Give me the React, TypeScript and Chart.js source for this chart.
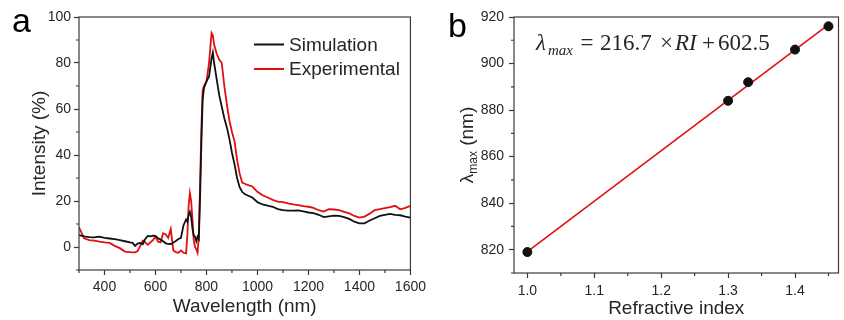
import React, { useEffect, useRef } from "react";
import { Chart, registerables } from "chart.js";
Chart.register(...registerables);

// ---------- Panel a data ----------
const wavelength = [
  300, 320, 340, 360, 380, 400, 420, 440, 460, 480, 500, 510, 520, 530, 540, 550, 560, 570, 580, 590,
  600, 610, 620, 630, 640, 650, 660, 665, 670, 680, 690, 700, 710, 720, 725, 730, 735, 740, 745, 750,
  755, 760, 765, 770, 775, 780, 785, 790, 800, 810, 820, 825, 830, 840, 850, 860, 870, 880, 890, 900,
  910, 920, 930, 940, 950, 960, 980, 1000, 1020, 1040, 1060, 1080, 1100, 1120, 1140, 1160, 1180, 1200,
  1220, 1240, 1260, 1280, 1300, 1320, 1340, 1360, 1380, 1400, 1420, 1440, 1460, 1480, 1500, 1520, 1540,
  1560, 1580, 1600,
];
const simulation = [
  5.2, 4.6, 4.3, 4.2, 4.5, 4.0, 3.7, 3.4, 3.0, 2.5, 2.0, 1.8, 0.5, 1.5, 1.8, 1.2, 3.5, 4.8, 4.6, 4.9,
  4.8, 3.8, 3.2, 2.5, 1.6, 1.4, 1.3, 1.5, 2.0, 2.6, 3.5, 4.0, 9.5, 12, 11, 14, 15.3, 13, 8, 5,
  4.5, 2.5, 4.5, 3.5, 22, 45, 64, 69, 72, 74, 82, 84.5, 80, 73, 66, 61, 56, 52, 47, 41,
  36, 30, 26, 24, 23, 22.5, 21.5, 19.5, 18.5, 18, 17.5, 16.5, 16, 15.8, 15.8, 15.9, 15.5, 15,
  14.7, 14, 13, 13.3, 13.6, 13.5, 13, 12.2, 11, 10.3, 10.3, 11.5, 12.5, 13.5, 14, 14.4, 14,
  13.8, 13.2, 12.8,
];
const experimental = [
  8.5, 3.8, 3.0, 2.8, 2.3, 2.0, 1.8, 0.5, -0.5, -2.0, -2.2, -2.3, -2.3, -1.8, 0.5, 2.8, 2.0, 1.0, 2.0, 3.0,
  4.5, 2.3, 2.0, 6.0, 5.5, 4.0, 7.8, 3.0, -1.5, -2.2, -2.5, -1.5, -2.5, -2.8, 5, 18, 23.5, 20, 12, 3,
  0, -1, -2.5, 5, 28, 52, 68, 70, 72, 80, 93, 92, 88, 84, 81.5, 80, 70, 62, 55, 50,
  46, 38, 32, 28, 27.5, 27, 26.3, 24, 22.5, 21.5, 20.5, 19.7, 19.5, 19, 18.5, 18.2, 17.8, 17.5,
  17, 16, 15.4, 16.4, 16.3, 16, 15.3, 14.6, 13.5, 12.8, 13.2, 14.5, 16, 16.5, 16.9, 17.3, 17.9,
  16.4, 17, 17.9,
];
const seriesLabels = ["Simulation", "Experimental"];
const minorTicksAX = [300, 500, 700, 900, 1100, 1300, 1500];
const minorTicksAY = [-10, 10, 30, 50, 70, 90];

// ---------- Panel b data ----------
const refractiveIndex = [1.0, 1.3, 1.33, 1.4, 1.45];
const lambdaMax = [819, 884, 892, 906, 916];
const fitRI = [1.0, 1.45];
const fitLambda = [819.2, 916.7];
const minorTicksBX = [1.05, 1.15, 1.25, 1.35, 1.45];
const minorTicksBY = [810, 830, 850, 870, 890, 910];

const SANS = "'Liberation Sans', Arial, sans-serif";
const SERIF = "'Liberation Serif', 'Times New Roman', serif";
const TEXT = "#262626";
const AXIS = "#3a3a3a";
const RED = "#e01010";
const BLACK = "#111111";

function framePlugin(minorX: number[], minorY: number[]) {
  return {
    id: "frameMinor",
    afterDraw(chart: any) {
      const { ctx, chartArea, scales } = chart;
      const { left, right, top, bottom } = chartArea;
      ctx.save();
      ctx.strokeStyle = AXIS;
      ctx.lineWidth = 1.2;
      ctx.strokeRect(left, top, right - left, bottom - top);
      ctx.beginPath();
      minorX.forEach((v) => {
        const px = scales.x.getPixelForValue(v);
        ctx.moveTo(px, bottom);
        ctx.lineTo(px, bottom + 3);
      });
      minorY.forEach((v) => {
        const py = scales.y.getPixelForValue(v);
        ctx.moveTo(left, py);
        ctx.lineTo(left - 3, py);
      });
      ctx.stroke();
      ctx.restore();
    },
  };
}

const annotA = {
  id: "annotA",
  afterDraw(chart: any) {
    const { ctx } = chart;
    ctx.save();
    ctx.fillStyle = "#000";
    ctx.font = `34px ${SANS}`;
    ctx.textBaseline = "alphabetic";
    ctx.fillText("a", 12, 32);
    // legend
    const ds = chart.data.datasets;
    const rows = [44.5, 69];
    ds.forEach((d: any, i: number) => {
      ctx.strokeStyle = d.borderColor;
      ctx.lineWidth = 2;
      ctx.beginPath();
      ctx.moveTo(254, rows[i]);
      ctx.lineTo(284, rows[i]);
      ctx.stroke();
      ctx.fillStyle = TEXT;
      ctx.font = `19px ${SANS}`;
      ctx.textBaseline = "middle";
      ctx.fillText(d.label, 289, rows[i] + 1);
    });
    ctx.restore();
  },
};

const annotB = {
  id: "annotB",
  afterDraw(chart: any) {
    const { ctx } = chart;
    ctx.save();
    ctx.fillStyle = "#000";
    ctx.font = `34px ${SANS}`;
    ctx.textBaseline = "alphabetic";
    ctx.fillText("b", 18, 36.7);
    // equation
    ctx.fillStyle = TEXT;
    const base = 50;
    const ox = -430;
    ctx.textAlign = "left";
    ctx.font = `italic 23px ${SERIF}`;
    ctx.fillText("λ", 536 + ox, base);
    ctx.font = `italic 15px ${SERIF}`;
    ctx.fillText("max", 548 + ox, base + 5);
    ctx.font = `23px ${SERIF}`;
    ctx.fillText("216.7", 600 + ox, base);
    ctx.fillText("602.5", 718 + ox, base);
    ctx.font = `italic 23px ${SERIF}`;
    ctx.fillText("RI", 675 + ox, base);
    ctx.font = `23px ${SERIF}`;
    ctx.textAlign = "center";
    ctx.fillText("=", 587 + ox, base);
    ctx.fillText("×", 666.5 + ox, base);
    ctx.fillText("+", 708.5 + ox, base);
    ctx.textAlign = "left";
    // y title with subscript
    const ca = chart.chartArea;
    ctx.translate(463 + ox + 3, (ca.top + ca.bottom) / 2);
    ctx.rotate(-Math.PI / 2);
    ctx.textBaseline = "alphabetic";
    const f1 = `19px ${SANS}`;
    const f2 = `12px ${SANS}`;
    ctx.font = f1;
    const w1 = ctx.measureText("λ").width;
    const w3 = ctx.measureText(" (nm)").width;
    ctx.font = f2;
    const w2 = ctx.measureText("max").width;
    const total = w1 + w2 + w3;
    let x = -total / 2;
    ctx.font = f1;
    ctx.fillText("λ", x, 7);
    x += w1;
    ctx.font = f2;
    ctx.fillText("max", x, 11);
    x += w2;
    ctx.font = f1;
    ctx.fillText(" (nm)", x, 7);
    ctx.restore();
  },
};

function axisCommon() {
  return {
    grid: { display: true, drawOnChartArea: false, drawTicks: true, tickLength: 5, tickColor: AXIS, tickWidth: 1.2 },
    border: { display: false },
  };
}

export default function App() {
  const refA = useRef<HTMLCanvasElement>(null);
  const refB = useRef<HTMLCanvasElement>(null);

  useEffect(() => {
    const chartA = new Chart(refA.current!, {
      type: "line",
      data: {
        datasets: [
          {
            label: seriesLabels[0],
            data: wavelength.map((w, i) => ({ x: w, y: simulation[i] })),
            borderColor: BLACK,
            borderWidth: 1.8,
            pointRadius: 0,
            tension: 0,
          },
          {
            label: seriesLabels[1],
            data: wavelength.map((w, i) => ({ x: w, y: experimental[i] })),
            borderColor: RED,
            borderWidth: 1.8,
            pointRadius: 0,
            tension: 0,
          },
        ],
      },
      options: {
        animation: false,
        responsive: false,
        layout: { padding: { top: 17, right: 17, left: 0, bottom: 0 } },
        plugins: { legend: { display: false }, tooltip: { enabled: false } },
        scales: {
          x: {
            type: "linear",
            min: 300,
            max: 1600,
            ...axisCommon(),
            ticks: {
              stepSize: 200,
              includeBounds: false,
              padding: 4,
              color: TEXT,
              font: { family: SANS, size: 14 },
              maxRotation: 0,
              callback: (v: any) => String(v),
            },
            title: { display: true, text: "Wavelength (nm)", color: TEXT, font: { family: SANS, size: 19 }, padding: { top: 0, bottom: 2 } },
            afterFit: (s: any) => { s.height = 50; },
          },
          y: {
            type: "linear",
            min: -10,
            max: 100,
            ...axisCommon(),
            ticks: { stepSize: 20, includeBounds: false, padding: 3, color: TEXT, font: { family: SANS, size: 14 }, callback: (v: any) => String(v) },
            title: { display: true, text: "Intensity (%)", color: TEXT, font: { family: SANS, size: 19 }, padding: { top: 28, bottom: 0 } },
            afterFit: (s: any) => { s.width = 79; },
          },
        },
      },
      plugins: [framePlugin(minorTicksAX, minorTicksAY), annotA],
    } as any);

    const chartB = new Chart(refB.current!, {
      type: "scatter",
      data: {
        datasets: [
          {
            label: "Data",
            data: refractiveIndex.map((r, i) => ({ x: r, y: lambdaMax[i] })),
            backgroundColor: BLACK,
            borderColor: BLACK,
            pointRadius: 4.5,
            order: 0,
          },
          {
            label: "Fit",
            type: "line",
            data: fitRI.map((r, i) => ({ x: r, y: fitLambda[i] })),
            borderColor: RED,
            borderWidth: 1.6,
            pointRadius: 0,
            order: 1,
          },
        ],
      },
      options: {
        animation: false,
        responsive: false,
        layout: { padding: { top: 17, right: 2, left: 0, bottom: 0 } },
        plugins: { legend: { display: false }, tooltip: { enabled: false } },
        scales: {
          x: {
            type: "linear",
            min: 0.98,
            max: 1.465,
            ...axisCommon(),
            ticks: {
              stepSize: 0.1,
              includeBounds: false,
              padding: 5,
              color: TEXT,
              font: { family: SANS, size: 14 },
              maxRotation: 0,
              callback: (v: any) => Number(v).toFixed(1),
            },
            title: { display: true, text: "Refractive index", color: TEXT, font: { family: SANS, size: 19 }, padding: { top: 0, bottom: 0 } },
            afterFit: (s: any) => { s.height = 47; },
          },
          y: {
            type: "linear",
            min: 810,
            max: 920,
            ...axisCommon(),
            ticks: { stepSize: 20, includeBounds: false, padding: 5, color: TEXT, font: { family: SANS, size: 14 }, callback: (v: any) => String(v) },
            title: { display: false },
            afterFit: (s: any) => { s.width = 84; },
          },
        },
      },
      plugins: [framePlugin(minorTicksBX, minorTicksBY), annotB],
    } as any);

    return () => {
      chartA.destroy();
      chartB.destroy();
    };
  }, []);

  return (
    <div style={{ position: "absolute", left: 0, top: 0, width: 844, height: 320, background: "#fff" }}>
      <canvas ref={refA} width={430} height={320} style={{ position: "absolute", left: 0, top: 0, width: 430, height: 320 }} />
      <canvas ref={refB} width={414} height={320} style={{ position: "absolute", left: 430, top: 0, width: 414, height: 320 }} />
    </div>
  );
}
